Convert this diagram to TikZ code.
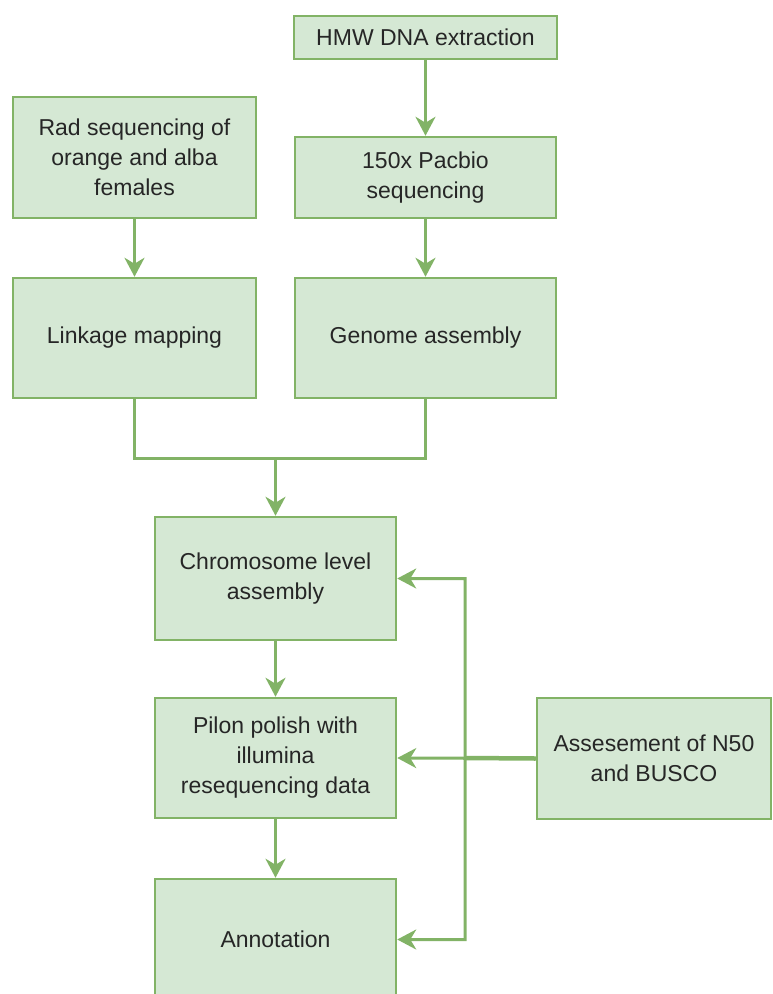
\documentclass[tikz,border=0pt]{standalone}
\usepackage{fontspec}
\setmainfont{Liberation Sans}
\usetikzlibrary{arrows.meta}
\definecolor{stepfill}{RGB}{213,232,212}
\definecolor{stepline}{RGB}{130,179,102}

\begin{document}
\begin{tikzpicture}[x=1pt, y=-1pt,
    box/.style={draw=stepline, fill=stepfill, line width=2.5pt, align=center,
        inner sep=0pt, text=black!85, font=\fontsize{23}{30}\selectfont},
    flow/.style={draw=stepline, line width=3pt,
        -{Stealth[length=19pt, width=20pt, inset=6pt]}},
    link/.style={draw=stepline, line width=3pt}]
    \useasboundingbox (0,0) rectangle (772,994);
    \clip (0,0) rectangle (772,994);

    % Sequencing
    \node[box, minimum width=263pt, minimum height=43pt] (hmw) at (425.5,37.5) {HMW DNA extraction};
    \node[box, minimum width=261pt, minimum height=81pt] (pacbio) at (425.5,177.5) {150x Pacbio\\sequencing};
    \node[box, minimum width=243pt, minimum height=121pt] (rad) at (134.5,157.5) {Rad sequencing of\\orange and alba\\females};

    % Mapping and assembly
    \node[box, minimum width=243pt, minimum height=120pt] (linkage) at (134.5,338) {Linkage mapping};
    \node[box, minimum width=261pt, minimum height=120pt] (genome) at (425.5,338) {Genome assembly};

    % Main line
    \node[box, minimum width=241pt, minimum height=123pt] (chrom) at (275.5,578.5) {Chromosome level\\assembly};
    \node[box, minimum width=241pt, minimum height=120pt] (pilon) at (275.5,758) {Pilon polish with\\illumina\\resequencing data};
    \node[box, minimum width=241pt, minimum height=121pt] (annot) at (275.5,939.5) {Annotation};
    \node[box, minimum width=234pt, minimum height=121pt] (assess) at (654,758.5) {Assesement of N50\\and BUSCO};

    \coordinate (join) at (275.5,458);
    \coordinate (bus) at (465,758);

    \draw[flow] (hmw) -- (pacbio);
    \draw[flow] (rad) -- (linkage);
    \draw[flow] (pacbio) -- (genome);

    % Merge of both branches
    \draw[link] (linkage.south) |- (join) -| (genome.south);
    \draw[flow] (join) -- (chrom);

    \draw[flow] (chrom) -- (pilon);
    \draw[flow] (pilon) -- (annot);

    % Assessment feedback
    \draw[flow] (assess.west) -- (pilon.east);
    \draw[link, line width=4.5pt] (assess.west) -- (bus);
    \draw[flow] (assess.west) -- (bus) |- (chrom.east);
    \draw[flow] (assess.west) -- (bus) |- (annot.east);
\end{tikzpicture}
\end{document}
